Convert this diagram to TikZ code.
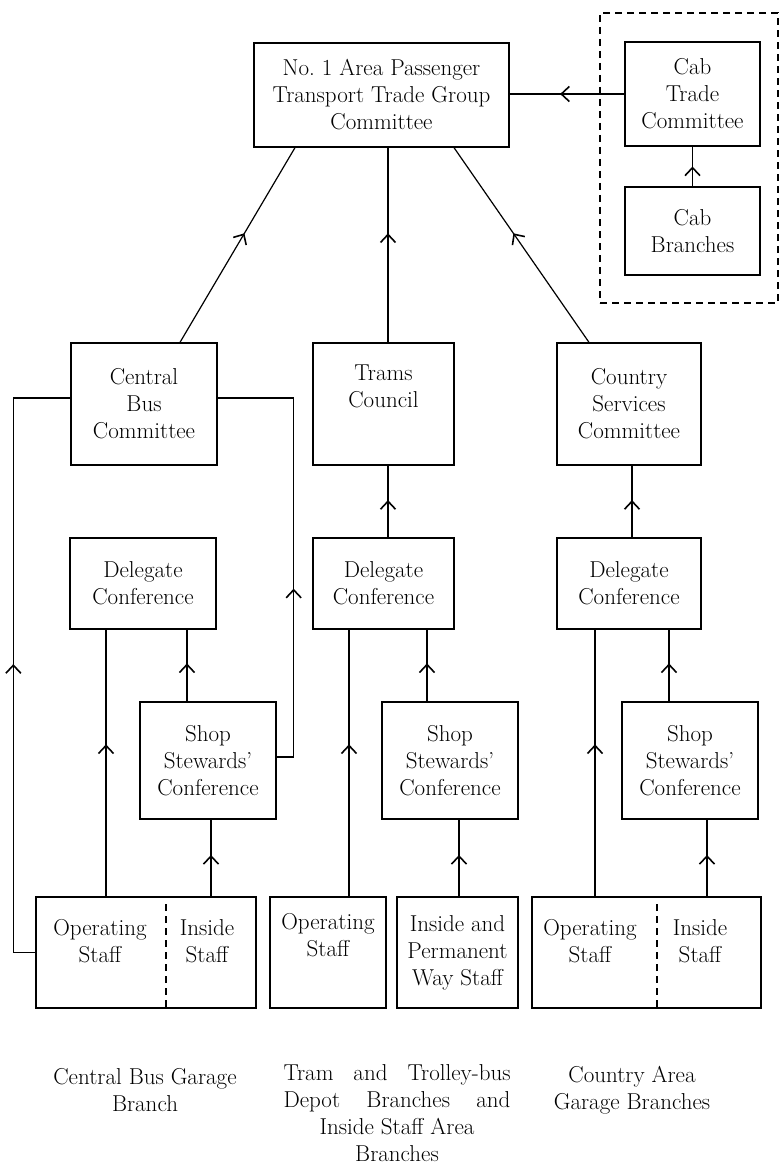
\documentclass[tikz,border=0pt]{standalone}
\usetikzlibrary{arrows.meta,decorations.markings}

\tikzset{
  box/.style={draw, line width=1.3pt, align=center, inner sep=0pt},
  link/.style={line width=1.2pt},
  midarrow/.style={postaction={decorate}, decoration={markings, mark=at position #1 with {\arrow[line width=1.6pt]{Straight Barb[length=8pt,width=15pt]}}}},
  divider/.style={line width=1.2pt, dash pattern=on 7pt off 5pt},
  caption/.style={align=center}
}

\begin{document}
\begin{tikzpicture}[x=1pt, y=-1pt, font=\fontsize{23}{27}\selectfont]
\useasboundingbox (0,0) rectangle (781,1169);

\node[box, minimum width=255pt, minimum height=104pt] (apt) at (381.5,95) {No.\ 1 Area Passenger\\Transport Trade Group\\Committee};
\node[box, minimum width=135pt, minimum height=104pt] (cabtc) at (692.5,94) {Cab\\Trade\\Committee};
\node[box, minimum width=135pt, minimum height=88pt] (cabbr) at (692.5,231) {Cab\\Branches};
\node[divider, draw, minimum width=178pt, minimum height=290pt] (cabgroup) at (689,158) {};

\node[box, minimum width=146pt, minimum height=122pt] (cbc) at (144,404) {Central\\Bus\\Committee};
\node[box, minimum width=141pt, minimum height=122pt] (tc) at (383.5,404) {Trams\\Council\\\strut};
\node[box, minimum width=144pt, minimum height=122pt] (csc) at (629,404) {Country\\Services\\Committee};

\node[box, minimum width=146pt, minimum height=91pt] (cbdel) at (143,583.5) {Delegate\\Conference};
\node[box, minimum width=141pt, minimum height=91pt] (tdel) at (383.5,583.5) {Delegate\\Conference};
\node[box, minimum width=144pt, minimum height=91pt] (csdel) at (629,583.5) {Delegate\\Conference};

\node[box, minimum width=136pt, minimum height=117pt] (cbss) at (208,760.5) {Shop\\Stewards'\\Conference};
\node[box, minimum width=136pt, minimum height=117pt] (tss) at (450,760.5) {Shop\\Stewards'\\Conference};
\node[box, minimum width=136pt, minimum height=117pt] (csss) at (690,760.5) {Shop\\Stewards'\\Conference};

\node[box, minimum width=220pt, minimum height=111pt] (cbstaff) at (146,952.5) {};
\node[align=center] (cbop) at (100,941) {Operating\\Staff};
\node[align=center] (cbin) at (207,941) {Inside\\Staff};
\node[box, minimum width=116pt, minimum height=111pt] (tops) at (328,952.5) {Operating\\Staff\\\strut};
\node[box, minimum width=121pt, minimum height=111pt] (tinside) at (457.5,952.5) {Inside and\\Permanent\\Way Staff};
\node[box, minimum width=229pt, minimum height=111pt] (csstaff) at (646.5,952.5) {};
\node[align=center] (csop) at (590,941) {Operating\\Staff};
\node[align=center] (csin) at (700,941) {Inside\\Staff};

\draw[divider] ([xshift=20pt,yshift=-8pt]cbstaff.north) -- ([xshift=20pt]cbstaff.south);
\draw[divider] ([xshift=10.5pt,yshift=-8pt]csstaff.north) -- ([xshift=10.5pt]csstaff.south);

\node[caption] (cbcap) at (145,1090) {Central Bus Garage\\Branch};
\node[caption] (tcap) at (397,1113) {\makebox[227pt][s]{Tram and Trolley-bus}\\\makebox[227pt][s]{Depot Branches and}\\Inside Staff Area\\Branches};
\node[caption] (cscap) at (632,1090) {Country Area\\Garage Branches};

\draw[link, midarrow=0.56] (cabtc.west) -- (cabtc.west -| apt.east);
\draw[link, midarrow=0.5] (cabbr.north) -- (cabtc.south);

\draw[link, midarrow=0.56] ([xshift=36pt]cbc.north) -- ([xshift=-86.5pt]apt.south);
\draw[link, midarrow=0.56] ([xshift=4.5pt]tc.north) -- ([xshift=6.5pt]apt.south);
\draw[link, midarrow=0.56] ([xshift=-40pt]csc.north) -- ([xshift=72.5pt]apt.south);

\draw[link, midarrow=0.52] ([xshift=4.5pt]tdel.north) -- ([xshift=4.5pt]tc.south);
\draw[link, midarrow=0.52] ([xshift=3pt]csdel.north) -- ([xshift=3pt]csc.south);

\draw[link, midarrow=0.53] ([xshift=-21pt]cbss.north) -- ([xshift=44pt]cbdel.south);
\draw[link, midarrow=0.53] ([xshift=-23pt]tss.north) -- ([xshift=43.5pt]tdel.south);
\draw[link, midarrow=0.53] ([xshift=-21pt]csss.north) -- ([xshift=40pt]csdel.south);

\draw[link, midarrow=0.57] ([xshift=-40pt]cbstaff.north) -- ([xshift=-37pt]cbdel.south);
\draw[link, midarrow=0.57] ([xshift=21pt]tops.north) -- ([xshift=-34.5pt]tdel.south);
\draw[link, midarrow=0.57] ([xshift=-51.5pt]csstaff.north) -- ([xshift=-34pt]csdel.south);

\draw[link, midarrow=0.54] ([xshift=65pt]cbstaff.north) -- ([xshift=3pt]cbss.south);
\draw[link, midarrow=0.54] ([xshift=1.5pt]tinside.north) -- ([xshift=9pt]tss.south);
\draw[link, midarrow=0.54] ([xshift=60.5pt]csstaff.north) -- ([xshift=17pt]csss.south);

\draw[link, midarrow=0.49] (cbstaff.west) -- ++(-22,0) |- ([yshift=6pt]cbc.west);
\draw[link, midarrow=0.41] ([yshift=3.5pt]cbss.east) -- ++(17,0) |- ([yshift=6pt]cbc.east);
\end{tikzpicture}
\end{document}
